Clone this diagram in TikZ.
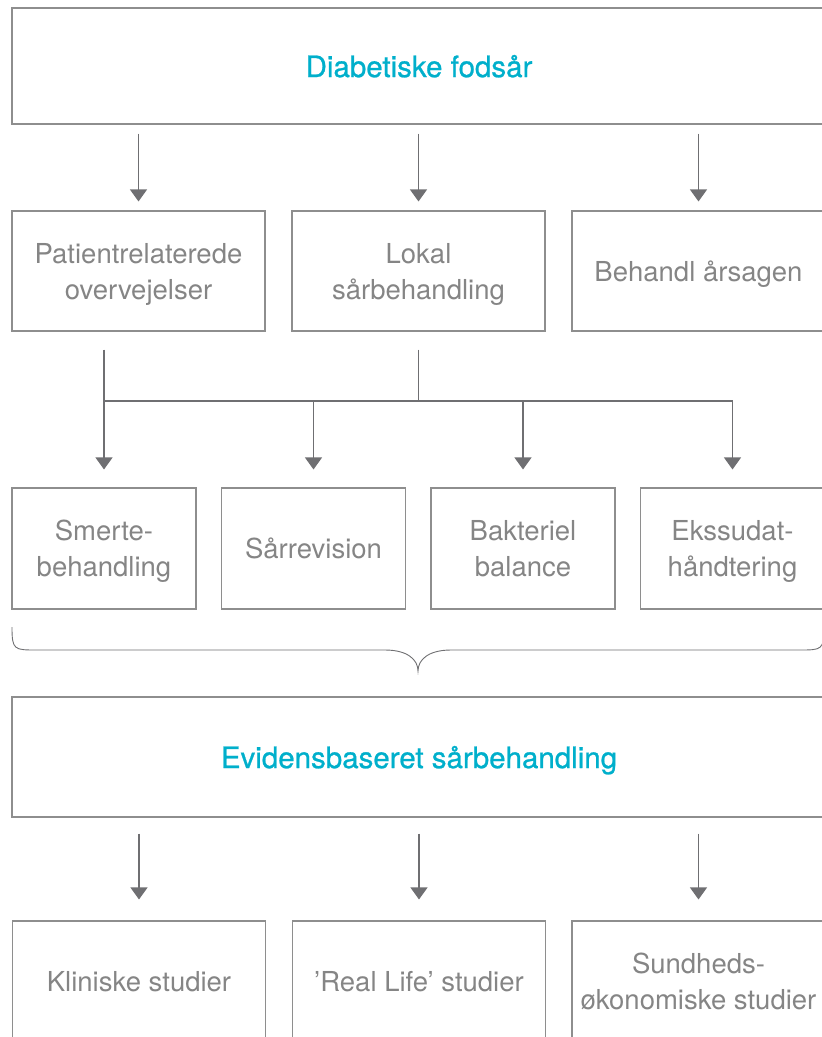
\documentclass[tikz,border=0pt]{standalone}
\usepackage{fontspec}
\setmainfont{TeX Gyre Heros}
\definecolor{boxGray}{HTML}{8E8E8E}
\definecolor{arrGray}{HTML}{6F6F72}
\definecolor{txtGray}{HTML}{858585}
\definecolor{headCyan}{HTML}{00AFCB}
\usetikzlibrary{arrows.meta,positioning}

\begin{document}
\begin{tikzpicture}[
  x=1pt, y=-1pt,
  box/.style={draw=boxGray, line width=1.1pt, text=txtGray, align=center,
              font=\fontsize{27.5}{36}\selectfont, inner sep=0pt, text depth=0pt,
              minimum width=253pt, minimum height=120pt},
  wide/.style={box, minimum width=814pt, minimum height=116pt, text=headCyan,
               font=\fontsize{29.5}{34}\selectfont\addfontfeature{FakeBold=0.8}},
  small/.style={box, minimum width=184pt, minimum height=121pt},
  arr/.style={-{Triangle[width=17pt,length=12pt]}, arrGray, line width=1.1pt},
  line/.style={arrGray, line width=1.1pt}
]
\useasboundingbox (0,0) rectangle (822,1037);
\clip (0,0) rectangle (822,1037);
% top level
\node[wide] (dfu) at (419,66) {Diabetiske fods\r{a}r};
\node[box] (pat)   at (138.5,271) {Patientrelaterede\\overvejelser};
\node[box] (lokal) at (418.5,271) {Lokal\\s\r{a}rbehandling};
\node[box] (aars)  at (698.5,271) {Behandl \r{a}rsagen};
% local treatment
\node[small] (smerte) at (104,548.5)   {Smerte-\\behandling};
\node[small] (revis)  at (313.5,548.5) {S\r{a}rrevision};
\node[small] (bakt)   at (523,548.5)   {Bakteriel\\balance};
\node[small] (ekss)   at (732.5,548.5) {Ekssudat-\\h\r{a}ndtering};
% evidence
\node[wide, minimum height=120pt] (evid) at (419,757) {Evidensbaseret s\r{a}rbehandling};
\node[box] (klin) at (139,981)   {Kliniske studier};
\node[box] (real) at (419,981)   {’Real Life’ studier};
\node[box] (oek)  at (698.5,981) {Sundheds-\\\o konomiske studier};
\coordinate (bar) at (418.5,401);
\coordinate (tip) at (418,671);

\draw[arr, shorten <=9pt, shorten >=9pt] (dfu.south -| pat.north) -- (pat.north);
\draw[arr, shorten <=9pt, shorten >=9pt] (dfu.south -| lokal.north) -- (lokal.north);
\draw[arr, shorten <=9pt, shorten >=9pt] (dfu.south -| aars.north) -- (aars.north);

\draw[line, shorten <=18pt] (lokal.south) -- (bar);
\draw[line] (bar -| smerte.north) -- (bar -| ekss.north);
\draw[arr, shorten <=18pt, shorten >=18pt] (pat.south -| smerte.north) -- (smerte.north);
\draw[arr, shorten >=18pt] (bar -| revis.north) -- (revis.north);
\draw[arr, shorten >=18pt] (bar -| bakt.north) -- (bakt.north);
\draw[arr, shorten >=18pt] (bar -| ekss.north) -- (ekss.north);

% brace
\draw[line, line width=0.9pt] (12,627) .. controls (12,650) and (14,650) .. (37,650) -- (385,650)
  .. controls (408,650) and (418,660) .. (tip)
  .. controls (418,660) and (428,650) .. (451,650) -- (799,650)
  .. controls (822,650) and (824,650) .. (824,627);

\draw[arr, shorten <=16pt, shorten >=21pt] (evid.south -| klin.north) -- (klin.north);
\draw[arr, shorten <=16pt, shorten >=21pt] (evid.south -| real.north) -- (real.north);
\draw[arr, shorten <=16pt, shorten >=21pt] (evid.south -| oek.north) -- (oek.north);
\end{tikzpicture}
\end{document}
